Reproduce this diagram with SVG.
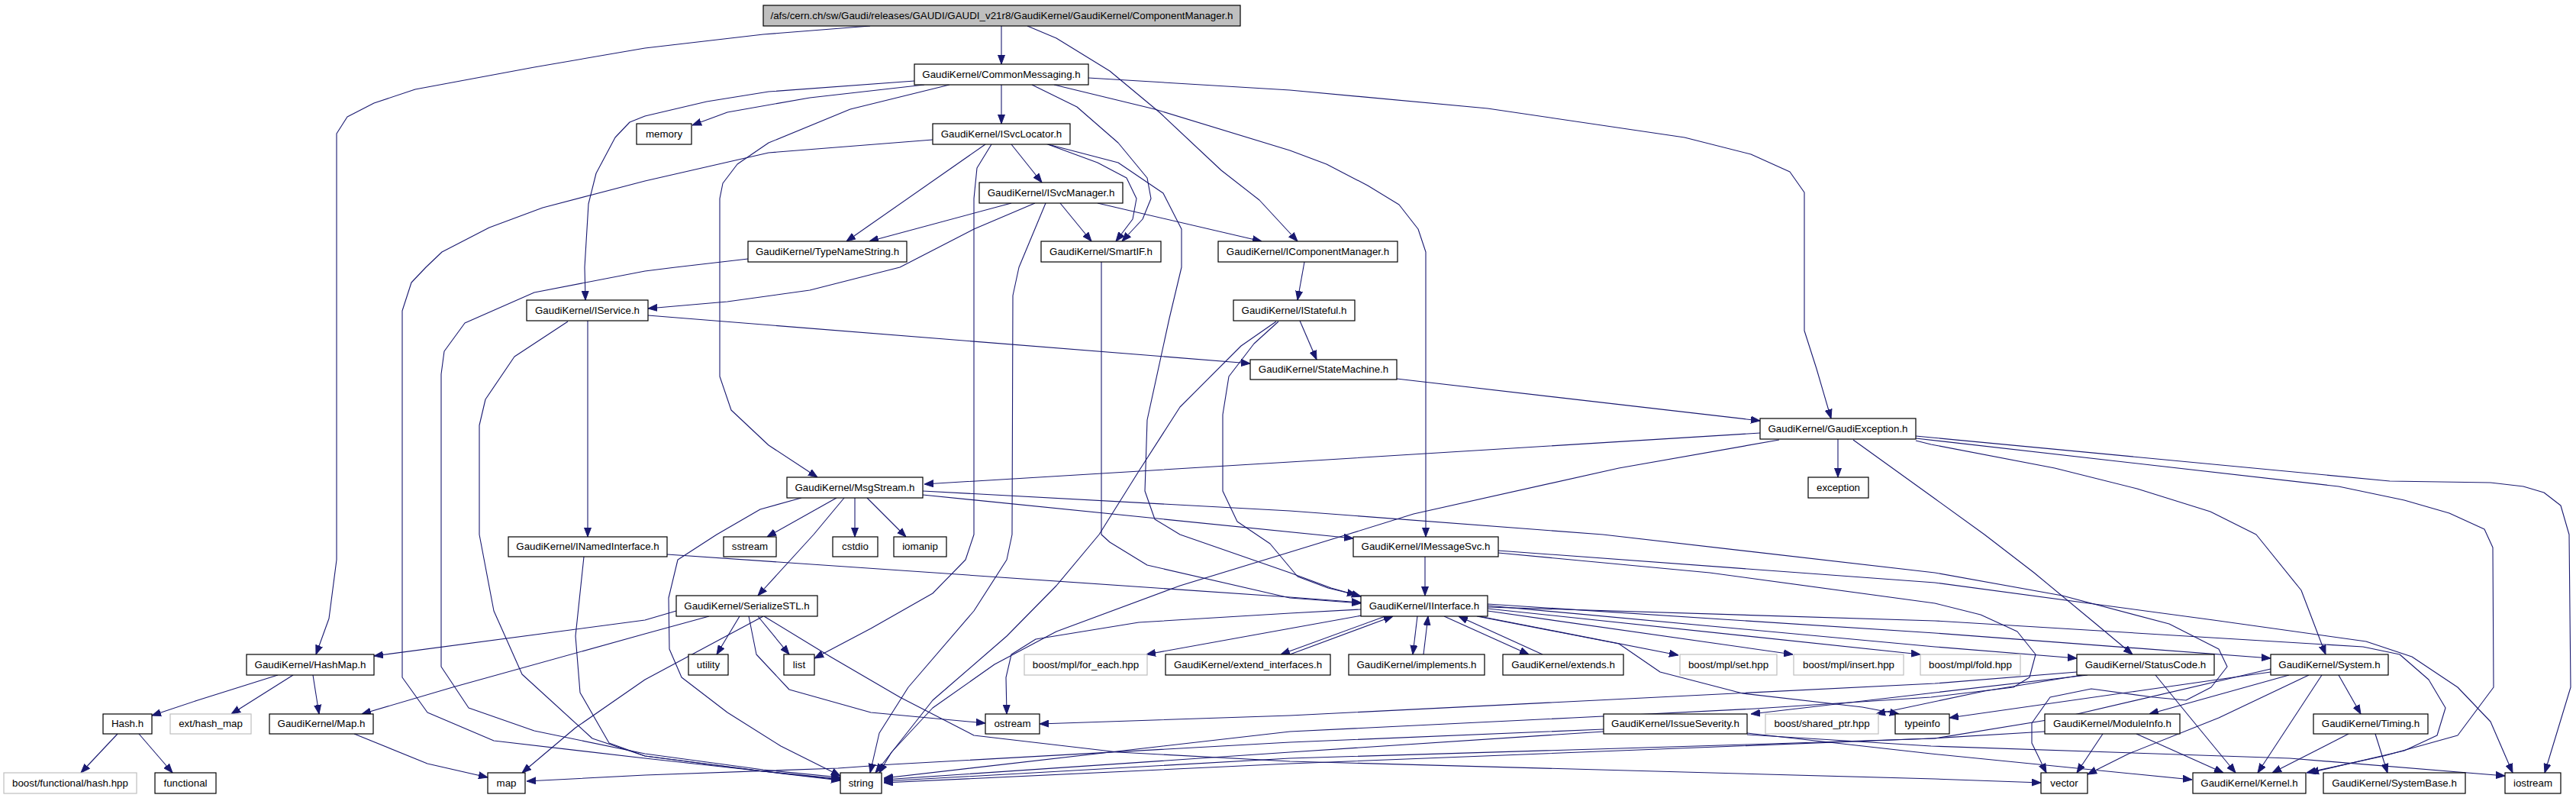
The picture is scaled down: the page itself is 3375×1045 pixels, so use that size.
<svg xmlns="http://www.w3.org/2000/svg" width="3375" height="1045" viewBox="0 0 3375 1045">
<defs>
<marker id="a" markerWidth="12" markerHeight="10" refX="12" refY="5" orient="auto" markerUnits="userSpaceOnUse"><path d="M0,0.5 L12,5 L0,9.5 z" fill="#191970" stroke="#191970" stroke-width="1"/></marker>
</defs>
<style>
.n rect{fill:#fff;stroke:#000;stroke-width:1.2}
.g rect{fill:#fff;stroke:#bfbfbf;stroke-width:1.2}
.r rect{fill:#bfbfbf;stroke:#000;stroke-width:1.2}
text{font-family:"Liberation Sans",Arial,sans-serif;font-size:13.33px;fill:#000;text-anchor:middle}
#edges path{fill:none;stroke:#191970;stroke-width:1.1;stroke-linejoin:round;marker-end:url(#a)}
</style>
<rect width="3375" height="1045" fill="#fff"/>
<g id="edges">
<path d="M1312,34 L1312,84"/>
<path d="M1140,34 L1000,45 L845,63 L700,88 L544,117 L490,135 L455,153 L441,175 L441,733 L431,810 L414,857"/>
<path d="M1346,34 L1384,50 L1454,93 L1519,147 L1600,223 L1650,262 L1700,316"/>
<path d="M1211,111 L1061,128 L953,147 L907,164"/>
<path d="M1198,106 L1007,120 L926,133 L845,152 L825,160 L806,180 L781,227 L771,267 L766,350 L767,393"/>
<path d="M1244,111 L1114,143 L1007,187 L966,215 L947,240 L943,260 L943,493 L958,537 L1007,583 L1071,625"/>
<path d="M1312,111 L1312,162"/>
<path d="M1352,111 L1411,140 L1465,187 L1503,233 L1508,260 L1497,287 L1470,316"/>
<path d="M1381,111 L1513,143 L1690,197 L1738,215 L1792,243 L1833,268 L1858,300 L1868,330 L1868,703"/>
<path d="M1426,102 L1690,118 L1949,142 L2207,180 L2294,202 L2345,225 L2364,252 L2364,433 L2380,483 L2399,548"/>
<path d="M1222,183 L1007,200 L845,237 L711,272 L641,298 L579,330 L558,350 L539,370 L527,407 L527,887 L560,933 L647,970 L845,993 L1000,1010 L1101,1020"/>
<path d="M1291,189 L1109,316"/>
<path d="M1299,189 L1280,220 L1276,260 L1276,700 L1265,733 L1222,777 L1141,823 L1067,862"/>
<path d="M1325,189 L1365,239"/>
<path d="M1370,188 L1438,213 L1476,233 L1489,260 L1484,287 L1462,316"/>
<path d="M1373,189 L1465,213 L1524,253 L1548,300 L1548,350 L1532,417 L1503,550 L1500,643 L1513,680 L1546,700 L1690,750 L1744,770 L1783,781"/>
<path d="M1325,266 L1139,316"/>
<path d="M1356,266 L1276,300 L1179,350 L1061,380 L953,395 L849,404"/>
<path d="M1370,266 L1335,350 L1327,387 L1326,700 L1319,733 L1276,800 L1190,900 L1152,960 L1140,1012"/>
<path d="M1389,266 L1430,316"/>
<path d="M1438,266 L1653,316"/>
<path d="M980,339 L885,350 L845,355 L700,383 L609,423 L582,460 L578,490 L578,873 L614,927 L700,957 L845,987 L1000,1008 L1101,1018"/>
<path d="M744,421 L674,467 L636,523 L628,557 L628,700 L647,800 L684,883 L776,967 L845,990 L1000,1010 L1101,1022"/>
<path d="M770,420 L770,703"/>
<path d="M849,413 L1638,476"/>
<path d="M1703,420 L1725,471"/>
<path d="M1675,421 L1643,450 L1610,493 L1602,543 L1602,643 L1621,683 L1664,712 L1700,755 L1740,770 L1777,779"/>
<path d="M1672,421 L1626,453 L1546,533 L1492,617 L1440,700 L1384,767 L1319,833 L1222,917 L1147,1012"/>
<path d="M1709,343 L1700,393"/>
<path d="M1443,343 L1443,700 L1454,710 L1503,740 L1690,783 L1783,790"/>
<path d="M1830,496 L2306,551"/>
<path d="M2306,567 L1690,605 L1211,634"/>
<path d="M2331,576 L2121,613 L1852,673 L1765,700 L1690,723 L1546,767 L1384,827 L1303,870 L1222,927 L1168,985 L1152,1012"/>
<path d="M2408,575 L2408,625"/>
<path d="M2428,576 L2535,653 L2600,700 L2665,750 L2746,817 L2794,857"/>
<path d="M2510,577 L2530,582 L2692,613 L2800,640 L2896,670 L2956,700 L3015,773 L3047,857"/>
<path d="M2510,574 L3064,637 L3150,655 L3209,672 L3255,693 L3266,717 L3267,900 L3220,963 L3123,990 L3022,1012"/>
<path d="M2510,571 L3131,630 L3263,632 L3306,637 L3333,645 L3355,662 L3366,700 L3368,900 L3334,1012"/>
<path d="M1096,652 L1005,703"/>
<path d="M1120,652 L1120,703"/>
<path d="M1136,652 L1187,703"/>
<path d="M1106,652 L1066,700 L993,780"/>
<path d="M1050,652 L996,667 L939,700 L888,733 L876,783 L877,850 L893,887 L953,933 L1023,977 L1101,1016"/>
<path d="M1209,648 L1773,705"/>
<path d="M1209,643 L1690,669 L2100,700 L2535,750 L2702,780 L2842,817 L2907,850 L2918,873 L2897,900 L2864,917 L2821,913 L2740,902 L2686,913 L2662,947 L2662,973 L2681,1012"/>
<path d="M1867,729 L1867,780"/>
<path d="M1963,721 L2535,763 L2900,812 L3100,840 L3160,860 L3220,900 L3263,945 L3292,1012"/>
<path d="M1963,724 L2240,750 L2535,790 L2595,805 L2643,827 L2667,857 L2659,887 L2638,900 L2530,913 L2300,928 L2060,940 L1690,958 L1158,1019"/>
<path d="M1949,795 L2535,813 L3096,847 L3144,857 L3182,890 L3204,927 L3193,963 L3150,983 L3026,1012"/>
<path d="M1783,798 L1690,803 L1492,815 L1357,837 L1325,857 L1318,887 L1319,935"/>
<path d="M1784,806 L1690,823 L1502,857"/>
<path d="M1690,857 L1825,807"/>
<path d="M1815,807 L1678,857"/>
<path d="M1857,807 L1851,857"/>
<path d="M1865,857 L1871,807"/>
<path d="M1892,807 L2003,857"/>
<path d="M2021,857 L1911,807"/>
<path d="M1938,807 L2199,858"/>
<path d="M1949,800 L2349,857"/>
<path d="M1949,797 L2516,857"/>
<path d="M1949,793 L2535,847 L2721,862"/>
<path d="M1949,791 L2535,829 L2975,862"/>
<path d="M1935,807 L2121,843 L2175,880 L2283,908 L2440,926 L2488,935"/>
<path d="M2721,880 L2535,895 L1690,937 L1362,948"/>
<path d="M2735,884 L2535,907 L2294,935"/>
<path d="M2728,884 L2600,905 L2458,935"/>
<path d="M2824,884 L2864,933 L2929,1012"/>
<path d="M2975,880 L2800,905 L2554,940"/>
<path d="M2999,884 L2816,935"/>
<path d="M3025,884 L2907,940 L2789,987 L2735,1014"/>
<path d="M3042,884 L2958,1012"/>
<path d="M3064,884 L3093,935"/>
<path d="M2975,876 L2700,940 L2535,967 L2289,975 L1690,993 L1158,1023"/>
<path d="M2679,958 L2530,967 L1690,1000 L1158,1025"/>
<path d="M2755,961 L2721,1012"/>
<path d="M2799,961 L2913,1012"/>
<path d="M3077,961 L2977,1012"/>
<path d="M3112,961 L3128,1012"/>
<path d="M2101,955 L1690,972 L1168,1001 L1098,1006 L845,1015 L690,1023"/>
<path d="M2101,958 L1690,985 L1158,1021"/>
<path d="M2289,962 L2530,977 L3000,993 L3282,1016"/>
<path d="M2289,960 L2530,987 L2872,1021"/>
<path d="M886,800 L845,812 L490,859"/>
<path d="M929,807 L845,830 L593,900 L474,935"/>
<path d="M1000,807 L845,890 L754,953 L684,1012"/>
<path d="M969,807 L939,857"/>
<path d="M993,807 L1034,857"/>
<path d="M981,807 L991,857 L1034,903 L1141,933 L1291,947"/>
<path d="M1001,807 L1088,860 L1179,913 L1276,963 L1465,985 L1690,997 L2535,1020 L2674,1025"/>
<path d="M364,884 L259,917 L199,937"/>
<path d="M384,884 L303,935"/>
<path d="M410,884 L418,935"/>
<path d="M154,961 L106,1012"/>
<path d="M182,961 L226,1012"/>
<path d="M464,961 L560,1000 L639,1018"/>
<path d="M874,726 L1690,782 L1783,789"/>
<path d="M765,729 L754,833 L760,907 L798,973 L845,990 L1000,1010 L1101,1021"/>
</g>
<g id="n0" class="r"><rect x="1000" y="7" width="625" height="27"/><text x="1312.5" y="25">/afs/cern.ch/sw/Gaudi/releases/GAUDI/GAUDI_v21r8/GaudiKernel/GaudiKernel/ComponentManager.h</text></g>
<g id="n1" class="n"><rect x="1198" y="84" width="228" height="27"/><text x="1312" y="102">GaudiKernel/CommonMessaging.h</text></g>
<g id="n2" class="n"><rect x="834" y="162" width="72" height="27"/><text x="870" y="180">memory</text></g>
<g id="n3" class="n"><rect x="1222" y="162" width="180" height="27"/><text x="1312" y="180">GaudiKernel/ISvcLocator.h</text></g>
<g id="n4" class="n"><rect x="1283" y="239" width="188" height="27"/><text x="1377" y="257">GaudiKernel/ISvcManager.h</text></g>
<g id="n5" class="n"><rect x="980" y="316" width="208" height="27"/><text x="1084" y="334">GaudiKernel/TypeNameString.h</text></g>
<g id="n6" class="n"><rect x="1364" y="316" width="157" height="27"/><text x="1442.5" y="334">GaudiKernel/SmartIF.h</text></g>
<g id="n7" class="n"><rect x="1596" y="316" width="235" height="27"/><text x="1713.5" y="334">GaudiKernel/IComponentManager.h</text></g>
<g id="n8" class="n"><rect x="690" y="393" width="159" height="27"/><text x="769.5" y="411">GaudiKernel/IService.h</text></g>
<g id="n9" class="n"><rect x="1616" y="393" width="159" height="27"/><text x="1695.5" y="411">GaudiKernel/IStateful.h</text></g>
<g id="n10" class="n"><rect x="1638" y="471" width="192" height="26"/><text x="1734" y="488">GaudiKernel/StateMachine.h</text></g>
<g id="n11" class="n"><rect x="2306" y="548" width="204" height="27"/><text x="2408" y="566">GaudiKernel/GaudiException.h</text></g>
<g id="n12" class="n"><rect x="1031" y="625" width="178" height="27"/><text x="1120" y="643">GaudiKernel/MsgStream.h</text></g>
<g id="n13" class="n"><rect x="2369" y="625" width="79" height="27"/><text x="2408.5" y="643">exception</text></g>
<g id="n14" class="n"><rect x="666" y="703" width="208" height="26"/><text x="770" y="720">GaudiKernel/INamedInterface.h</text></g>
<g id="n15" class="n"><rect x="948" y="703" width="69" height="26"/><text x="982.5" y="720">sstream</text></g>
<g id="n16" class="n"><rect x="1091" y="703" width="59" height="26"/><text x="1120.5" y="720">cstdio</text></g>
<g id="n17" class="n"><rect x="1171" y="703" width="69" height="26"/><text x="1205.5" y="720">iomanip</text></g>
<g id="n18" class="n"><rect x="1773" y="703" width="190" height="26"/><text x="1868" y="720">GaudiKernel/IMessageSvc.h</text></g>
<g id="n19" class="n"><rect x="886" y="780" width="185" height="27"/><text x="978.5" y="798">GaudiKernel/SerializeSTL.h</text></g>
<g id="n20" class="n"><rect x="1783" y="780" width="166" height="27"/><text x="1866" y="798">GaudiKernel/IInterface.h</text></g>
<g id="n21" class="n"><rect x="323" y="857" width="167" height="27"/><text x="406.5" y="875">GaudiKernel/HashMap.h</text></g>
<g id="n22" class="n"><rect x="902" y="857" width="52" height="27"/><text x="928" y="875">utility</text></g>
<g id="n23" class="n"><rect x="1027" y="857" width="40" height="27"/><text x="1047" y="875">list</text></g>
<g id="n24" class="g"><rect x="1342" y="857" width="161" height="27"/><text x="1422.5" y="875">boost/mpl/for_each.hpp</text></g>
<g id="n25" class="n"><rect x="1527" y="857" width="216" height="27"/><text x="1635" y="875">GaudiKernel/extend_interfaces.h</text></g>
<g id="n26" class="n"><rect x="1767" y="857" width="178" height="27"/><text x="1856" y="875">GaudiKernel/implements.h</text></g>
<g id="n27" class="n"><rect x="1969" y="857" width="158" height="27"/><text x="2048" y="875">GaudiKernel/extends.h</text></g>
<g id="n28" class="g"><rect x="2201" y="857" width="127" height="27"/><text x="2264.5" y="875">boost/mpl/set.hpp</text></g>
<g id="n29" class="g"><rect x="2350" y="857" width="144" height="27"/><text x="2422" y="875">boost/mpl/insert.hpp</text></g>
<g id="n30" class="g"><rect x="2516" y="857" width="131" height="27"/><text x="2581.5" y="875">boost/mpl/fold.hpp</text></g>
<g id="n31" class="n"><rect x="2721" y="857" width="180" height="27"/><text x="2811" y="875">GaudiKernel/StatusCode.h</text></g>
<g id="n32" class="n"><rect x="2975" y="857" width="154" height="27"/><text x="3052" y="875">GaudiKernel/System.h</text></g>
<g id="n33" class="n"><rect x="135" y="935" width="64" height="26"/><text x="167" y="952">Hash.h</text></g>
<g id="n34" class="g"><rect x="223" y="935" width="106" height="26"/><text x="276" y="952">ext/hash_map</text></g>
<g id="n35" class="n"><rect x="353" y="935" width="136" height="26"/><text x="421" y="952">GaudiKernel/Map.h</text></g>
<g id="n36" class="n"><rect x="1291" y="935" width="71" height="26"/><text x="1326.5" y="952">ostream</text></g>
<g id="n37" class="n"><rect x="2101" y="935" width="188" height="26"/><text x="2195" y="952">GaudiKernel/IssueSeverity.h</text></g>
<g id="n38" class="g"><rect x="2313" y="935" width="148" height="26"/><text x="2387" y="952">boost/shared_ptr.hpp</text></g>
<g id="n39" class="n"><rect x="2483" y="935" width="71" height="26"/><text x="2518.5" y="952">typeinfo</text></g>
<g id="n40" class="n"><rect x="2679" y="935" width="177" height="26"/><text x="2767.5" y="952">GaudiKernel/ModuleInfo.h</text></g>
<g id="n41" class="n"><rect x="3031" y="935" width="150" height="26"/><text x="3106" y="952">GaudiKernel/Timing.h</text></g>
<g id="n42" class="g"><rect x="5" y="1012" width="174" height="27"/><text x="92" y="1030">boost/functional/hash.hpp</text></g>
<g id="n43" class="n"><rect x="203" y="1012" width="80" height="27"/><text x="243" y="1030">functional</text></g>
<g id="n44" class="n"><rect x="639" y="1012" width="49" height="27"/><text x="663.5" y="1030">map</text></g>
<g id="n45" class="n"><rect x="1101" y="1012" width="54" height="27"/><text x="1128" y="1030">string</text></g>
<g id="n46" class="n"><rect x="2674" y="1012" width="61" height="27"/><text x="2704.5" y="1030">vector</text></g>
<g id="n47" class="n"><rect x="2873" y="1012" width="148" height="27"/><text x="2947" y="1030">GaudiKernel/Kernel.h</text></g>
<g id="n48" class="n"><rect x="3044" y="1012" width="186" height="27"/><text x="3137" y="1030">GaudiKernel/SystemBase.h</text></g>
<g id="n49" class="n"><rect x="3282" y="1012" width="73" height="27"/><text x="3318.5" y="1030">iostream</text></g>
</svg>
